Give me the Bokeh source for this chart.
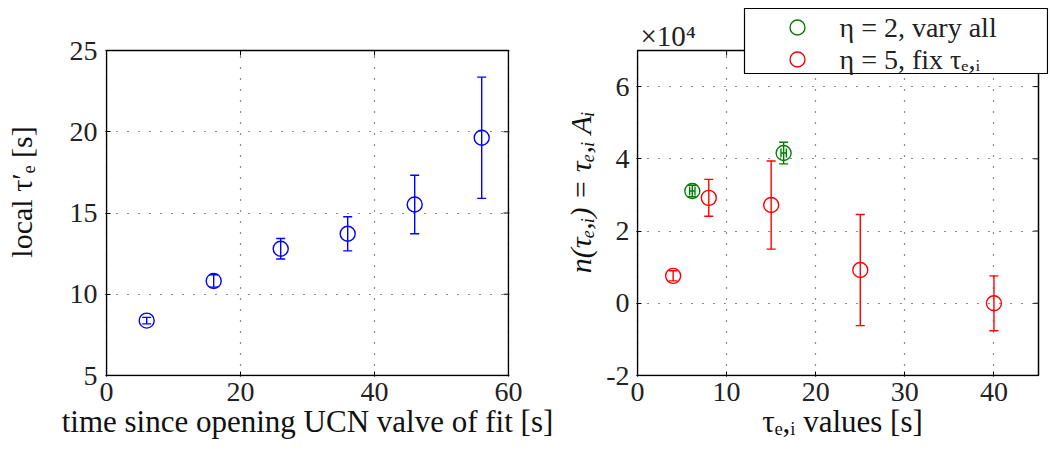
import math
from bokeh.plotting import figure
from bokeh.layouts import row
from bokeh.models import ColumnDataSource, Whisker, TeeHead, FixedTicker, Label
from bokeh.embed import file_html
from bokeh.resources import INLINE

# ---- data: left panel ----
t_open = [6, 16, 26, 36, 46, 56]
tau_local = [8.38, 10.82, 12.8, 13.72, 15.52, 19.63]
tau_local_err = [0.2, 0.38, 0.63, 1.05, 1.8, 3.73]

# ---- data: right panel ----
green_x = [6.15, 16.4]
green_y = [31100, 41600]
green_yerr = [1600, 3000]
green_xerr = [0.3, 0.3]

red_x = [4.0, 8.0, 15.0, 25.0, 40.0]
red_y = [7600, 29200, 27200, 9200, 0]
red_yerr = [1400, 5100, 12200, 15400, 7600]

left_xticks = [0, 20, 40, 60]
left_yticks = [5, 10, 15, 20, 25]
right_xticks = [0, 10, 20, 30, 40]
right_yticks = [-20000, 0, 20000, 40000, 60000]
right_ylabels = {-20000: "-2", 0: "0", 20000: "2", 40000: "4", 60000: "6"}
legend_labels = ["η = 2, vary all", "η = 5, fix τₑ,ᵢ"]

FONT = "Liberation Serif"
TICK_FS = "28px"
XLAB_FS = "31px"
YLAB_FS = "30px"
BLUE = "#0000ff"
RED = "#ff0000"
GREEN = "#008000"

H = 450
FRAME_TOP = 7        # frame starts here (legend / x10^4 note live above the box)
BOX_TOP = 50
BOX_BOTTOM = 375


class Panel:
    """Figure whose plot box (axes rectangle) is `box` = (x0, x1, y0, y1).
    The frame is extended 1px left/bottom, to `frame_right` px and up to FRAME_TOP,
    so that notes drawn above the box are not clipped."""

    def __init__(self, width, box, box_px_left, box_px_w, frame_right, xt, yt):
        x0, x1, y0, y1 = box
        self.box, self.bl = box, box_px_left
        self.sx = box_px_w / (x1 - x0)
        self.sy = (BOX_BOTTOM - BOX_TOP) / (y1 - y0)
        xr = (x0 - 1 / self.sx, x1 + (frame_right - box_px_left - box_px_w) / self.sx)
        yr = (y0 - 1 / self.sy, y1 + (BOX_TOP - FRAME_TOP) / self.sy)
        p = figure(width=width, height=H, x_range=xr, y_range=yr,
                   output_backend="svg", toolbar_location=None,
                   min_border_left=box_px_left - 1, min_border_right=width - frame_right,
                   min_border_top=FRAME_TOP, min_border_bottom=H - BOX_BOTTOM - 1)
        p.outline_line_color = None
        p.background_fill_color = "white"
        p.border_fill_color = "white"
        xa, ya = p.below[0], p.left[0]
        xa.ticker = FixedTicker(ticks=xt)
        ya.ticker = FixedTicker(ticks=yt)
        for ax in (xa, ya):
            ax.major_label_text_font = FONT
            ax.major_label_text_font_size = TICK_FS
            ax.major_label_text_color = "#222222"
            ax.axis_label_text_font = FONT
            ax.axis_label_text_font_style = "normal"
            ax.axis_label_text_color = "#111111"
            ax.major_tick_in = 5
            ax.major_tick_out = 0
            ax.minor_tick_line_color = None
            ax.axis_line_color = None
            ax.major_tick_line_color = "black"
        xa.axis_label_text_font_size = XLAB_FS
        ya.axis_label_text_font_size = YLAB_FS
        xa.major_label_standoff = 6
        ya.major_label_standoff = 8
        xa.axis_label_standoff = 0
        for g in (p.xgrid[0], p.ygrid[0]):
            g.grid_line_color = "black"
            g.grid_line_dash = "1 10"
            g.grid_line_width = 1.2
            g.grid_line_alpha = 0.9
        # box ticks on the top and right sides; outer halves get covered below
        p.scatter(xt, [y1] * len(xt), marker="dash", angle=math.pi / 2, size=10,
                  line_color="black", line_width=1)
        p.scatter([x1] * len(yt), yt, marker="dash", size=10,
                  line_color="black", line_width=1)
        # white covers outside the box, then the box itself
        p.quad(left=[xr[0], x1], right=[xr[1], xr[1]], bottom=[y1, yr[0]], top=[yr[1], y1],
               fill_color="white", line_color=None)
        p.quad(left=[x0], right=[x1], bottom=[y0], top=[y1],
               fill_color=None, line_color="black", line_width=1.5)
        self.p, self.xa, self.ya = p, xa, ya

    # convert a position given in canvas pixels into data units (for notes/legend)
    def px_x(self, px):
        return self.box[0] + (px - self.bl) / self.sx

    def px_y(self, py):
        return self.box[3] + (BOX_TOP - py) / self.sy


def errbars(p, x, y, err, color, dim="y"):
    lower = [v - e for v, e in zip(y, err)]
    upper = [v + e for v, e in zip(y, err)]
    src = ColumnDataSource(dict(base=x, lower=lower, upper=upper))
    w = Whisker(base="base", lower="lower", upper="upper", source=src,
                dimension="height" if dim == "y" else "width",
                line_color=color, line_width=1.4,
                upper_head=TeeHead(size=9, line_color=color, line_width=1.4),
                lower_head=TeeHead(size=9, line_color=color, line_width=1.4))
    p.add_layout(w)


# ---------------- left figure ----------------
P1 = Panel(560, (0, 60, 5, 25), 106, 402, 509, left_xticks, left_yticks)
p1 = P1.p
P1.xa.axis_label = "time since opening UCN valve of fit [s]"
P1.ya.axis_label = "local τ′ₑ [s]"
P1.ya.axis_label_standoff = 29
p1.scatter(t_open, tau_local, size=15, marker="circle", fill_color=None,
           line_color=BLUE, line_width=1.4)
errbars(p1, t_open, tau_local, tau_local_err, BLUE)

# ---------------- right figure ----------------
P2 = Panel(489, (0, 45, -20000, 70000), 77, 401, 488, right_xticks, right_yticks)
p2 = P2.p
P2.ya.major_label_overrides = right_ylabels
P2.xa.axis_label = "τₑ,ᵢ values [s]"
P2.ya.axis_label = "n(τₑ,ᵢ) = τₑ,ᵢ Aᵢ"
P2.ya.axis_label_text_font_style = "italic"
P2.ya.axis_label_standoff = 6
P2.ya.major_label_standoff = 7

p2.scatter(green_x, green_y, size=15, marker="circle", fill_color=None,
           line_color=GREEN, line_width=1.4)
p2.scatter(red_x, red_y, size=15, marker="circle", fill_color=None,
           line_color=RED, line_width=1.4)
errbars(p2, green_x, green_y, green_yerr, GREEN)
errbars(p2, green_y, green_x, green_xerr, GREEN, dim="x")
errbars(p2, red_x, red_y, red_yerr, RED)

p2.add_layout(Label(x=0, y=70000, x_offset=3, y_offset=15, text="×10⁴", text_font=FONT,
                    text_font_size="29px", text_color="#222222",
                    text_baseline="alphabetic"))

# ---- legend (box, markers, labels), placed in canvas pixels of p2 ----
LEG_L, LEG_R, LEG_T, LEG_B = 184, 487, 8, 73
ROW_Y = [27, 59]
MARK_X, TEXT_X = 237, 279
p2.quad(left=[P2.px_x(LEG_L)], right=[P2.px_x(LEG_R)],
        top=[P2.px_y(LEG_T)], bottom=[P2.px_y(LEG_B)],
        fill_color="white", line_color="black", line_width=1.2)
for lab, col, ry in zip(legend_labels, [GREEN, RED], ROW_Y):
    p2.scatter([P2.px_x(MARK_X)], [P2.px_y(ry)], size=15, marker="circle",
               fill_color=None, line_color=col, line_width=1.4)
    p2.add_layout(Label(x=P2.px_x(TEXT_X), y=P2.px_y(ry), text=lab, text_font=FONT,
                        text_font_size="28px", text_color="#222222",
                        text_baseline="middle", text_align="left"))

layout = row(p1, p2)
open("out.html", "w").write(file_html(layout, INLINE))
